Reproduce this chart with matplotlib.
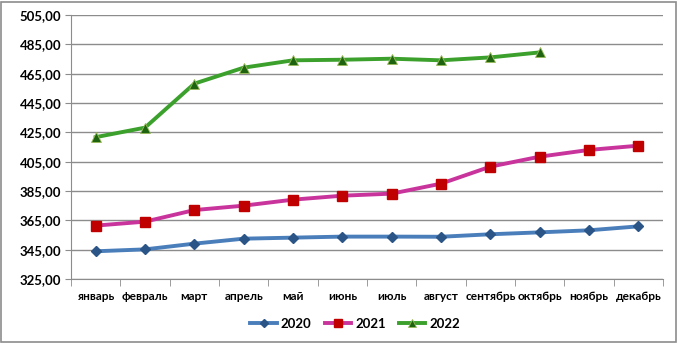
import numpy as np
import matplotlib.pyplot as plt
from matplotlib.patches import Rectangle

months = ['январь', 'февраль', 'март', 'апрель', 'май', 'июнь', 'июль',
          'август', 'сентябрь', 'октябрь', 'ноябрь', 'декабрь']
y2020 = [343.9, 345.2, 349.1, 352.5, 353.2, 353.9, 353.9, 353.8, 355.5, 356.8, 358.2, 360.9]
y2021 = [361.4, 364.1, 372.0, 375.0, 379.1, 381.8, 383.2, 390.0, 401.6, 408.4, 413.0, 415.9]
y2022 = [421.7, 428.2, 458.2, 469.1, 474.1, 474.5, 475.2, 474.1, 476.1, 479.5]
yticks = [325, 345, 365, 385, 405, 425, 445, 465, 485, 505]

plt.rcParams['font.family'] = ['Lato', 'DejaVu Sans']

fig = plt.figure(figsize=(6.78, 3.43), dpi=100)
fig.patches.append(Rectangle((0.002, 0.003), 0.995, 0.992, transform=fig.transFigure,
                             fill=False, edgecolor='#8c8c8c', linewidth=1.2))
ax = fig.add_axes([71 / 678, 1 - 279 / 343, (663 - 71) / 678, (279 - 15) / 343])

x = np.arange(len(months)) + 0.5
ax.plot(x, y2020, color='#4a7ebb', lw=2.8, marker='D', ms=5.5,
        mfc='#2c5587', mec='#2c5587', label='2020', zorder=3)
ax.plot(x, y2021, color='#c8349c', lw=2.8, marker='s', ms=6.5,
        mfc='#c00000', mec='#c00000', label='2021', zorder=3)
ax.plot(x[:len(y2022)], y2022, color='#3ba12c', lw=2.8, marker='^', ms=7.5,
        mfc='#1e6410', mec='#9bbb59', mew=0.6, label='2022', zorder=3)

ax.set_xlim(0, 12)
ax.set_ylim(325, 505)
ax.set_yticks(yticks)
ax.set_yticklabels([f'{v},00' for v in yticks], fontsize=9.5, fontweight='bold')
ax.set_xticks(x)
ax.set_xticklabels(months, fontsize=8.6, fontweight='bold')
ax.set_xticks(np.arange(0, 13), minor=True)
ax.tick_params(axis='x', which='major', length=0, pad=9)
ax.tick_params(axis='x', which='minor', length=5, color='#8c8c8c')
ax.tick_params(axis='y', length=4, color='#8c8c8c', pad=3)
ax.grid(axis='y', color='#8c8c8c', lw=1)
ax.set_axisbelow(True)
for s in ['top', 'right']:
    ax.spines[s].set_visible(False)
for s in ['left', 'bottom']:
    ax.spines[s].set_color('#8c8c8c')

leg = ax.legend(loc='center', bbox_to_anchor=(0.48, -0.17), ncol=3, frameon=False,
                prop={'size': 9.5, 'weight': 'bold'}, handlelength=2.0,
                columnspacing=1.0, handletextpad=0.3, markerscale=0.8)

fig.savefig('out.png', dpi=100)
